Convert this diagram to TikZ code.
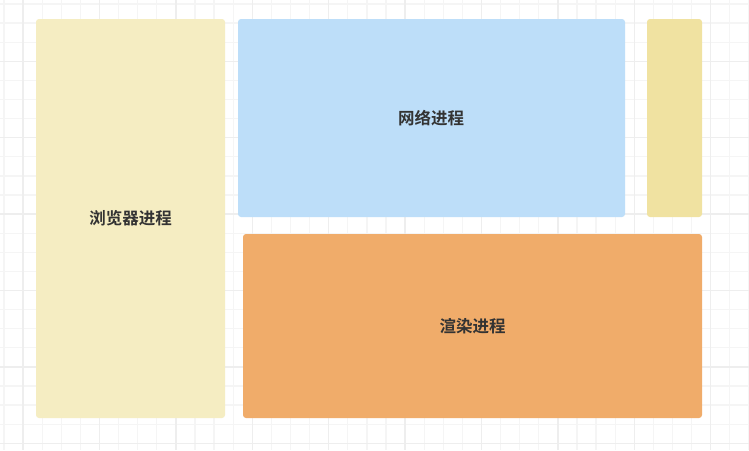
\documentclass[tikz,border=0pt]{standalone}
\usepackage{fontspec}
\newfontfamily\cjk{Noto Sans CJK SC}[BoldFont={Noto Sans CJK SC Bold}]
\definecolor{gridminor}{HTML}{F5F5F5}
\definecolor{gridmajor}{HTML}{EEEEEE}
\definecolor{browserc}{HTML}{F5EDC2}
\definecolor{netc}{HTML}{BDDEF9}
\definecolor{smallc}{HTML}{F0E2A1}
\definecolor{renderc}{HTML}{F0AC6A}
\definecolor{txtc}{HTML}{333333}
\tikzset{
  procbox/.style={rounded corners=3pt, draw=none},
  proclabel/.style={text=txtc, font=\cjk\bfseries\fontsize{16.5}{19}\selectfont}
}
\begin{document}
\begin{tikzpicture}[x=1pt,y=-1pt]
\fill[white] (0,0) rectangle (749,450);
\useasboundingbox (0,0) rectangle (749,450);
\foreach \k in {0,...,39} {
  \pgfmathsetmacro{\xx}{4+19.1*\k}
  \draw[gridminor, line width=1.3pt] (\xx,0) -- (\xx,450);
}
\foreach \k in {0,...,23} {
  \pgfmathsetmacro{\yy}{4+19.1*\k}
  \draw[gridminor, line width=1.3pt] (0,\yy) -- (749,\yy);
}
\foreach \k in {1,5,...,37} {
  \pgfmathsetmacro{\xx}{4+19.1*\k}
  \draw[gridmajor, line width=1.3pt] (\xx,0) -- (\xx,450);
}
\foreach \k in {3,7,...,23} {
  \pgfmathsetmacro{\yy}{4+19.1*\k}
  \draw[gridmajor, line width=1.3pt] (0,\yy) -- (749,\yy);
}
\filldraw[procbox, fill=browserc] (36,19) rectangle (225,418);
\filldraw[procbox, fill=netc] (238,19) rectangle (625,217);
\filldraw[procbox, fill=smallc] (647,19) rectangle (702,217);
\filldraw[procbox, fill=renderc] (243,234) rectangle (702,418);
\node[proclabel] (browser) at (130.5,218) {浏览器进程};
\node[proclabel] (network) at (431,118) {网络进程};
\node[proclabel] (render) at (472.5,326) {渲染进程};
\end{tikzpicture}
\end{document}
